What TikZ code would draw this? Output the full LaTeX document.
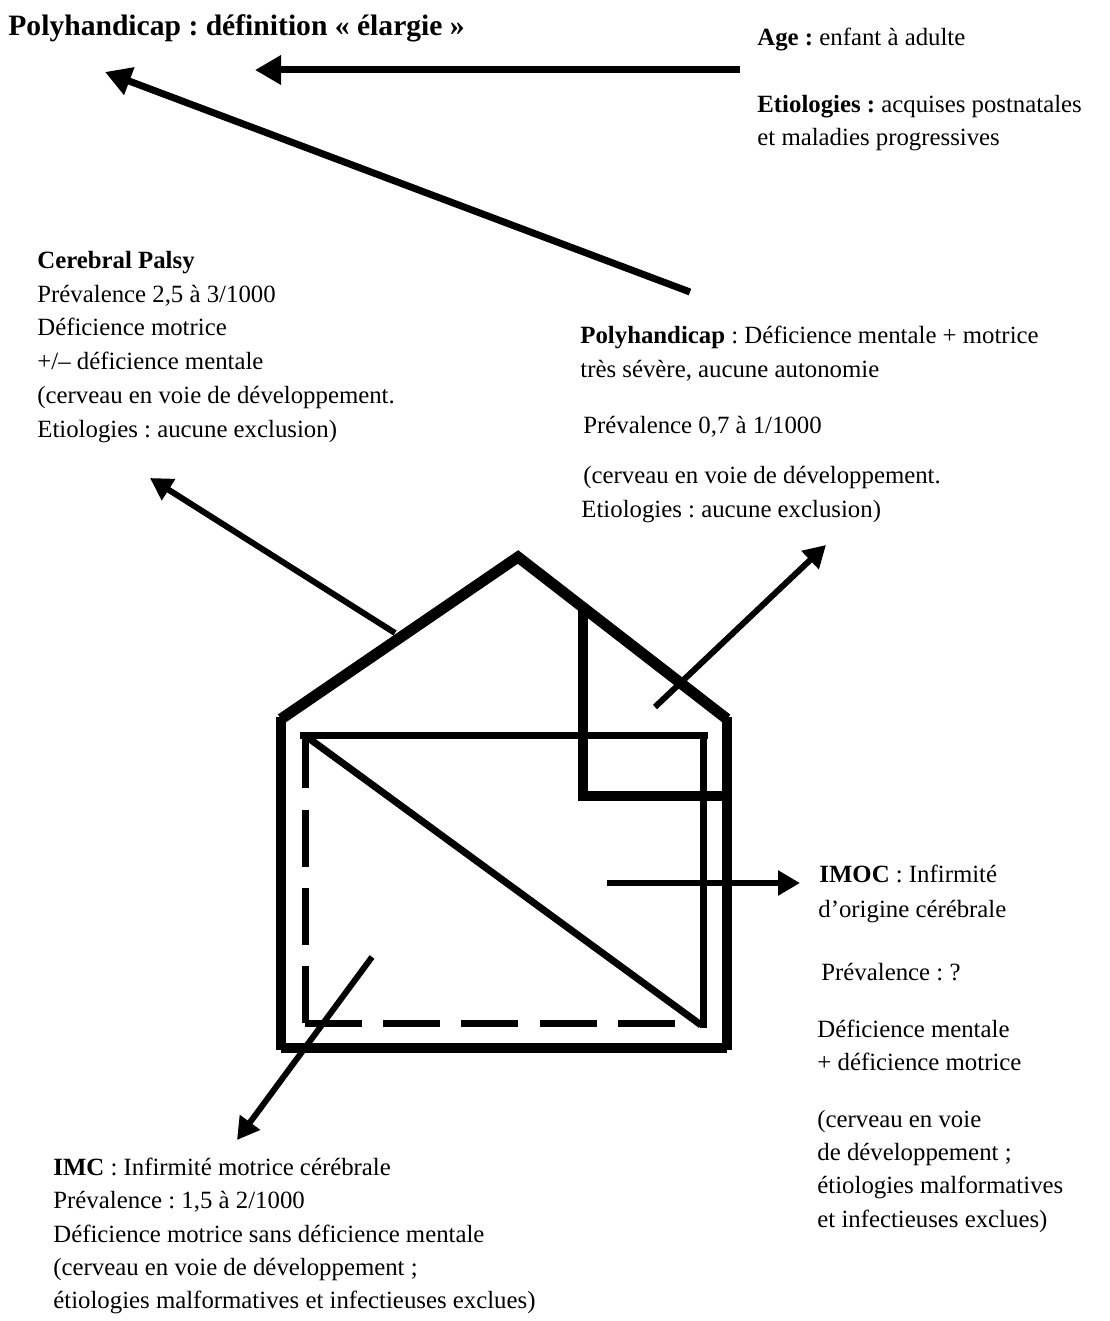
\documentclass[tikz,border=0pt]{standalone}
\usepackage{fontspec}
\setmainfont{Liberation Serif}
\usetikzlibrary{arrows.meta}
\frenchspacing
\begin{document}
\begin{tikzpicture}[x=0.5pt,y=-0.5pt,
  txt/.style={anchor=base west, inner sep=0pt, font=\fontsize{12.4}{17}\selectfont\frenchspacing},
  ttl/.style={anchor=base west, inner sep=0pt, font=\fontsize{14.8}{18}\selectfont\bfseries\frenchspacing},
  outer/.style={line width=5pt, line join=miter},
  roof/.style={line width=5.5pt, line join=miter},
  inner/.style={line width=3.5pt},
  dashline/.style={line width=3.5pt, dash pattern=on 28.5pt off 10.6pt},
  arr/.style={line width=3pt, -{Triangle[length=11pt,width=12pt]}},
  bigarr/.style={line width=3.5pt, -{Triangle[length=13pt,width=14pt]}}]
\useasboundingbox (0,0) rectangle (1109,1321);

% house
\draw[outer] (281,1048) -- (727,1048);
\draw[outer] (281,1050) -- (281,717);
\draw[outer] (727,1050) -- (727,717);
\draw[roof] (281,719) -- (518,557) -- (727,719);
\draw[outer] (583,610) -- (583,796) -- (729,796);
\draw[inner] (300,735) -- (708,735);
\draw[inner] (703,733) -- (703,1028);
\draw[inner] (307,737) -- (701,1025);
\draw[dashline] (305,1023) -- (305,737);
\draw[dashline] (305,1023) -- (675,1023);

% coordinates for arrows
\coordinate (cpS) at (395,633);  \coordinate (cpT) at (150,478);
\coordinate (phS) at (655,707);  \coordinate (phT) at (826,545);
\coordinate (imocS) at (607,883); \coordinate (imocT) at (800,883);
\coordinate (imcS) at (372,957); \coordinate (imcT) at (237,1140);
\coordinate (topS) at (740,70);  \coordinate (topT) at (255,70);
\coordinate (diaS) at (690,292); \coordinate (diaT) at (105,72);

\draw[arr] (cpS) -- (cpT);
\draw[arr] (phS) -- (phT);
\draw[arr] (imocS) -- (imocT);
\draw[arr] (imcS) -- (imcT);
\draw[bigarr] (topS) -- (topT);
\draw[bigarr] (diaS) -- (diaT);

% title
\node[ttl] (title) at (8,36) {Polyhandicap : définition « élargie »};

% top right
\node[txt] (age) at (757,46) {\textbf{Age :} enfant à adulte};
\node[txt] (eti1) at (757,113) {\textbf{Etiologies :} acquises postnatales};
\node[txt] (eti2) at (757,146) {et maladies progressives};

% cerebral palsy
\node[txt] (cp1) at (37,268) {\textbf{Cerebral Palsy}};
\node[txt] (cp2) at (37,302) {Prévalence 2,5 à 3/1000};
\node[txt] (cp3) at (37,335) {Déficience motrice};
\node[txt] (cp4) at (37,369) {+/– déficience mentale};
\node[txt] (cp5) at (37,403) {(cerveau en voie de développement.};
\node[txt] (cp6) at (37,437) {Etiologies : aucune exclusion)};

% polyhandicap
\node[txt] (ph1) at (580,343) {\textbf{Polyhandicap} : Déficience mentale + motrice};
\node[txt] (ph2) at (580,377) {très sévère, aucune autonomie};
\node[txt] (ph3) at (583,433) {Prévalence 0,7 à 1/1000};
\node[txt] (ph4) at (583,483) {(cerveau en voie de développement.};
\node[txt] (ph5) at (581,517) {Etiologies : aucune exclusion)};

% IMOC
\node[txt] (im1) at (819,882) {\textbf{IMOC} : Infirmité};
\node[txt] (im2) at (818,917) {d’origine cérébrale};
\node[txt] (im3) at (821,980) {Prévalence : ?};
\node[txt] (im4) at (817,1037) {Déficience mentale};
\node[txt] (im5) at (817,1070) {+ déficience motrice};
\node[txt] (im6) at (817,1127) {(cerveau en voie};
\node[txt] (im7) at (817,1160) {de développement ;};
\node[txt] (im8) at (817,1193) {étiologies malformatives};
\node[txt] (im9) at (817,1227) {et infectieuses exclues)};

% IMC
\node[txt] (ic1) at (53,1175) {\textbf{IMC} : Infirmité motrice cérébrale};
\node[txt] (ic2) at (53,1208) {Prévalence : 1,5 à 2/1000};
\node[txt] (ic3) at (53,1242) {Déficience motrice sans déficience mentale};
\node[txt] (ic4) at (53,1275) {(cerveau en voie de développement ;};
\node[txt] (ic5) at (53,1308) {étiologies malformatives et infectieuses exclues)};
\end{tikzpicture}
\end{document}
